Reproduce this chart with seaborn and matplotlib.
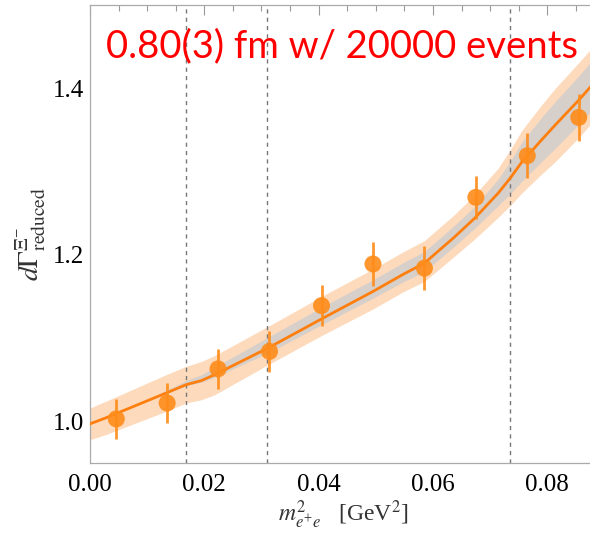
import numpy as np
import pandas as pd
import matplotlib
matplotlib.use("Agg")
import matplotlib.pyplot as plt
from matplotlib.ticker import MultipleLocator, FormatStrFormatter
import seaborn as sns

# ---- data ----
curve_x = [0.0, 0.0027, 0.008, 0.0133, 0.0168, 0.0195, 0.0218, 0.0314, 0.0405, 0.0495, 0.0549,
           0.0585, 0.0637, 0.0673, 0.0714, 0.0735, 0.0755, 0.079, 0.0814, 0.0854, 0.0885]
curve_y = [0.997, 1.004, 1.019, 1.034, 1.044, 1.049, 1.056, 1.089, 1.123, 1.156, 1.177,
           1.190, 1.221, 1.244, 1.274, 1.292, 1.311, 1.338, 1.356, 1.385, 1.409]
gray_up = [0.000, 0.000, 0.001, 0.003, 0.005, 0.007, 0.009, 0.013, 0.014, 0.014, 0.014,
           0.014, 0.014, 0.014, 0.017, 0.020, 0.024, 0.027, 0.028, 0.029, 0.030]
gray_dn = [0.000, 0.000, 0.000, 0.001, 0.001, 0.002, 0.003, 0.006, 0.007, 0.008, 0.009,
           0.010, 0.011, 0.012, 0.015, 0.019, 0.023, 0.026, 0.028, 0.029, 0.030]
outer_up = [0.019, 0.020, 0.021, 0.022, 0.022, 0.023, 0.023, 0.026, 0.027, 0.027, 0.027,
            0.027, 0.027, 0.028, 0.030, 0.034, 0.038, 0.042, 0.044, 0.045, 0.045]
outer_dn = [0.019, 0.020, 0.021, 0.022, 0.022, 0.023, 0.024, 0.020, 0.020, 0.021, 0.021,
            0.022, 0.023, 0.025, 0.029, 0.033, 0.037, 0.041, 0.044, 0.045, 0.045]

pts_x = [0.0046, 0.0135, 0.0224, 0.0314, 0.0405, 0.0495, 0.0585, 0.0675, 0.0765, 0.0855]
pts_y = [1.003, 1.022, 1.063, 1.084, 1.139, 1.189, 1.184, 1.269, 1.319, 1.365]
pts_err = [0.024, 0.024, 0.024, 0.025, 0.025, 0.026, 0.026, 0.026, 0.027, 0.028]

vlines_x = [0.0168, 0.0310, 0.0735]
x_ticks = [0.00, 0.02, 0.04, 0.06, 0.08]
y_ticks = [1.0, 1.2, 1.4]
title_text = "0.80(3) fm w/ 20000 events"

# ---- plotting ----
sns.set_theme(style="white")
plt.rcParams["font.family"] = ["Liberation Serif", "DejaVu Serif"]
plt.rcParams["mathtext.fontset"] = "stix"

fig = plt.figure(figsize=(5.9, 5.34), dpi=100)
ax = fig.add_axes([90 / 590, 1 - 463 / 534, 1 - 90 / 590 + 0.01, (463 - 5) / 534])

cx = np.array(curve_x)
cy = np.array(curve_y)
ax.fill_between(cx, cy - np.array(outer_dn), cy + np.array(outer_up),
                color="#fddabc", lw=0, zorder=1)
ax.fill_between(cx, cy - np.array(gray_dn), cy + np.array(gray_up),
                color="#d6cfca", lw=0, zorder=2)

df_curve = pd.DataFrame({"x": curve_x, "y": curve_y})
sns.lineplot(data=df_curve, x="x", y="y", ax=ax, color="#ff7f0e", lw=2.0,
             zorder=4, sort=False, estimator=None)

for xv in vlines_x:
    ax.axvline(xv, color="#777777", lw=1.0, ls=(0, (3, 3)), zorder=3)

ax.errorbar(pts_x, pts_y, yerr=pts_err, fmt="none", ecolor="#ff8c1a",
            elinewidth=2.0, capsize=0, zorder=5, alpha=0.9)
df_pts = pd.DataFrame({"x": pts_x, "y": pts_y})
sns.scatterplot(data=df_pts, x="x", y="y", ax=ax, color="#ff8c1a", s=150,
                edgecolor="none", alpha=0.9, zorder=6)

ax.set_xlim(0, 0.0885)
ax.set_ylim(0.95, 1.5)
ax.set_xticks(x_ticks)
ax.set_yticks(y_ticks)
ax.xaxis.set_major_formatter(FormatStrFormatter("%.2f"))
ax.yaxis.set_major_formatter(FormatStrFormatter("%.1f"))
ax.xaxis.set_minor_locator(MultipleLocator(0.005))
ax.yaxis.set_minor_locator(MultipleLocator(0.04))
ax.tick_params(which="both", direction="in", color="#999999", top=True, right=False,
               labelsize=18, labelcolor="black")
ax.tick_params(axis="x", which="both", pad=8)
ax.tick_params(axis="y", which="both", pad=4)
ax.tick_params(which="major", length=7, width=0.8)
ax.tick_params(which="minor", length=4, width=0.8)
for side in ["left", "bottom", "top"]:
    ax.spines[side].set_color("#aaaaaa")
    ax.spines[side].set_linewidth(0.9)
ax.spines["right"].set_visible(False)

ax.set_xlabel(r"$m^{2}_{e^{+}e}$   [GeV$^{2}$]", fontsize=17, color="#333333", labelpad=2)
ax.set_ylabel(r"$d\Gamma^{\Xi^{-}}_{\mathrm{reduced}}$", fontsize=20, color="#333333", labelpad=4)
ax.grid(False)

fig.text(0.580, 0.914, title_text, color="#ff0000", fontsize=27.5,
         family=["Lato", "DejaVu Sans"], ha="center", va="center")

fig.savefig("out.png", dpi=100)
